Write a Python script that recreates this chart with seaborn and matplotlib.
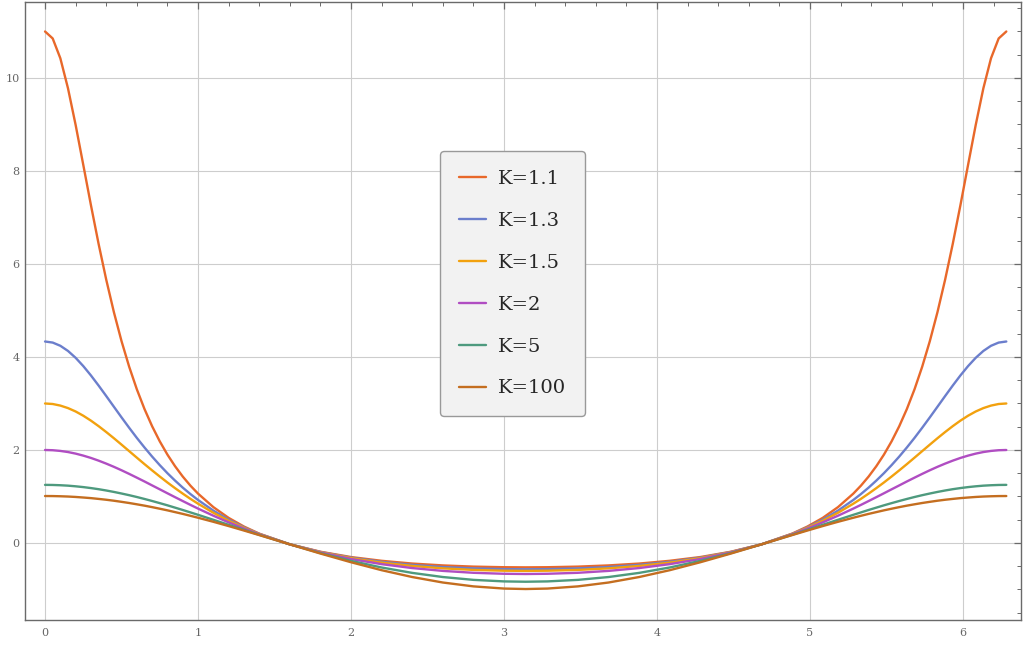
import numpy as np
import pandas as pd
import matplotlib
matplotlib.use("Agg")
import matplotlib.pyplot as plt
import seaborn as sns
from matplotlib.ticker import MultipleLocator

# sample positions (read along the x axis)
x_vals = [0, 0.05, 0.1, 0.15, 0.2, 0.25, 0.3, 0.35, 0.4, 0.45, 0.5, 0.55, 0.6, 0.65, 0.7, 0.75,
          0.8, 0.85, 0.9, 0.95, 1.0, 1.1, 1.2, 1.3, 1.4, 1.6, 1.8, 2.0, 2.2, 2.4, 2.6, 2.8, 3.0, 3.1416,
          3.283, 3.483, 3.683, 3.883, 4.083, 4.283, 4.483, 4.683, 4.883, 4.983, 5.083, 5.183, 5.283,
          5.333, 5.383, 5.433, 5.483, 5.533, 5.583, 5.633, 5.683, 5.733, 5.783,
          5.833, 5.883, 5.933, 5.983, 6.033, 6.083, 6.133, 6.183, 6.233, 6.283]

labels = ["K=1.1", "K=1.3", "K=1.5", "K=2", "K=5", "K=100"]

y_k1_1 = [11.0, 10.85, 10.424, 9.778, 8.989, 8.130, 7.264, 6.433, 5.662, 4.964, 4.340, 3.789, 3.305,
          2.881, 2.510, 2.185, 1.900, 1.650, 1.429, 1.234, 1.062, 0.772, 0.540, 0.354, 0.201,
          -0.028, -0.188, -0.302, -0.383, -0.442, -0.482, -0.508, -0.521, -0.524,
          -0.521, -0.508, -0.482, -0.442, -0.383, -0.302, -0.188, -0.028, 0.201, 0.354, 0.540,
          0.772, 1.062, 1.234, 1.429, 1.650, 1.900, 2.185, 2.510, 2.881, 3.305, 3.789, 4.340,
          4.964, 5.662, 6.433, 7.264, 8.130, 8.989, 9.778, 10.424, 10.85, 11.0]
y_k1_3 = [4.333, 4.310, 4.241, 4.130, 3.982, 3.804, 3.603, 3.386, 3.160, 2.930, 2.701, 2.477, 2.260,
          2.054, 1.858, 1.674, 1.501, 1.341, 1.191, 1.053, 0.925, 0.697, 0.502, 0.337, 0.196,
          -0.029, -0.193, -0.315, -0.405, -0.471, -0.517, -0.546, -0.562, -0.565,
          -0.562, -0.546, -0.517, -0.471, -0.405, -0.315, -0.193, -0.029, 0.196, 0.337, 0.502,
          0.697, 0.925, 1.053, 1.191, 1.341, 1.501, 1.674, 1.858, 2.054, 2.260, 2.477, 2.701,
          2.930, 3.160, 3.386, 3.603, 3.804, 3.982, 4.130, 4.241, 4.310, 4.333]
y_k1_5 = [3.0, 2.989, 2.955, 2.901, 2.828, 2.737, 2.631, 2.513, 2.386, 2.253, 2.115, 1.975, 1.835,
          1.696, 1.561, 1.429, 1.301, 1.179, 1.062, 0.950, 0.845, 0.650, 0.478, 0.326, 0.192,
          -0.029, -0.197, -0.326, -0.423, -0.494, -0.545, -0.579, -0.596, -0.600,
          -0.596, -0.579, -0.545, -0.494, -0.423, -0.326, -0.197, -0.029, 0.192, 0.326, 0.478,
          0.650, 0.845, 0.950, 1.062, 1.179, 1.301, 1.429, 1.561, 1.696, 1.835, 1.975, 2.115,
          2.253, 2.386, 2.513, 2.631, 2.737, 2.828, 2.901, 2.955, 2.989, 3.0]
y_k2 = [2.0, 1.995, 1.980, 1.956, 1.922, 1.879, 1.829, 1.771, 1.707, 1.638, 1.564, 1.486, 1.405,
        1.323, 1.238, 1.154, 1.069, 0.985, 0.902, 0.820, 0.740, 0.587, 0.443, 0.309, 0.186,
        -0.029, -0.204, -0.345, -0.455, -0.539, -0.600, -0.641, -0.662, -0.667,
        -0.662, -0.641, -0.600, -0.539, -0.455, -0.345, -0.204, -0.029, 0.186, 0.309, 0.443,
        0.587, 0.740, 0.820, 0.902, 0.985, 1.069, 1.154, 1.238, 1.323, 1.405, 1.486, 1.564,
        1.638, 1.707, 1.771, 1.829, 1.879, 1.922, 1.956, 1.980, 1.995, 2.0]
y_k5 = [1.25, 1.248, 1.242, 1.233, 1.219, 1.202, 1.181, 1.157, 1.129, 1.098, 1.064, 1.028, 0.989,
        0.947, 0.903, 0.857, 0.810, 0.760, 0.710, 0.658, 0.606, 0.499, 0.391, 0.283, 0.176,
        -0.029, -0.217, -0.384, -0.527, -0.643, -0.732, -0.793, -0.826, -0.833,
        -0.826, -0.793, -0.732, -0.643, -0.527, -0.384, -0.217, -0.029, 0.176, 0.283, 0.391,
        0.499, 0.606, 0.658, 0.710, 0.760, 0.810, 0.857, 0.903, 0.947, 0.989, 1.028, 1.064,
        1.098, 1.129, 1.157, 1.181, 1.202, 1.219, 1.233, 1.242, 1.248, 1.25]
y_k100 = [1.010, 1.009, 1.005, 0.999, 0.990, 0.978, 0.965, 0.948, 0.930, 0.909, 0.885, 0.860, 0.832,
          0.803, 0.771, 0.737, 0.702, 0.664, 0.626, 0.585, 0.543, 0.456, 0.364, 0.268, 0.170,
          -0.029, -0.227, -0.414, -0.585, -0.732, -0.850, -0.933, -0.980, -0.990,
          -0.980, -0.933, -0.850, -0.732, -0.585, -0.414, -0.227, -0.029, 0.170, 0.268, 0.364,
          0.456, 0.543, 0.585, 0.626, 0.664, 0.702, 0.737, 0.771, 0.803, 0.832, 0.860, 0.885,
          0.909, 0.930, 0.948, 0.965, 0.978, 0.990, 0.999, 1.005, 1.009, 1.010]

colors = ["#E8682A", "#6B7ECC", "#F2A10E", "#B04DC2", "#4E9A7E", "#C46E20"]

series = [y_k1_1, y_k1_3, y_k1_5, y_k2, y_k5, y_k100]
frames = []
for lab, ys in zip(labels, series):
    frames.append(pd.DataFrame({"x": x_vals, "y": ys, "K": lab}))
df = pd.concat(frames, ignore_index=True)

sns.set_style("white")
plt.rcParams["font.family"] = ["DejaVu Serif", "DejaVu Sans"]

fig = plt.figure(figsize=(10.24, 6.48), dpi=100)
ax = fig.add_axes([25 / 1024, 28 / 648, 996 / 1024, 618 / 648])

sns.lineplot(data=df, x="x", y="y", hue="K", palette=dict(zip(labels, colors)),
             hue_order=labels, sort=False, linewidth=1.7, ax=ax, legend=True, zorder=3)

ax.set_xlim(-0.131, 6.379)
ax.set_ylim(-1.656, 11.634)
ax.set_xlabel("")
ax.set_ylabel("")

ax.xaxis.set_major_locator(MultipleLocator(1))
ax.xaxis.set_minor_locator(MultipleLocator(0.2))
ax.yaxis.set_major_locator(MultipleLocator(2))
ax.yaxis.set_minor_locator(MultipleLocator(0.5))
ax.grid(True, which="major", color="#CDCDCD", linewidth=0.8, zorder=0)
ax.set_axisbelow(True)

frame_col = "#6A6A6A"
for s in ax.spines.values():
    s.set_color(frame_col)
    s.set_linewidth(1.0)
    s.set_visible(True)
ax.tick_params(which="both", direction="in", top=True, right=True, color=frame_col,
               labelcolor="#666666", labelsize=8)
ax.tick_params(which="major", length=5, width=0.9, pad=6)
ax.tick_params(which="minor", length=3, width=0.7)
ax.tick_params(axis="y", pad=4)

leg = ax.legend(loc="upper left", bbox_to_anchor=((440 - 25) / 996, (620 - 151) / 618),
                frameon=True, fancybox=True, fontsize=14, handlelength=1.4,
                handletextpad=0.6, labelspacing=1.23, borderpad=0.97, borderaxespad=0)
frame = leg.get_frame()
frame.set_facecolor("#F2F2F2")
frame.set_edgecolor("#999999")
frame.set_linewidth(1.0)
frame.set_alpha(1.0)
for line in leg.get_lines():
    line.set_linewidth(1.7)

fig.savefig("out.png", dpi=100)
